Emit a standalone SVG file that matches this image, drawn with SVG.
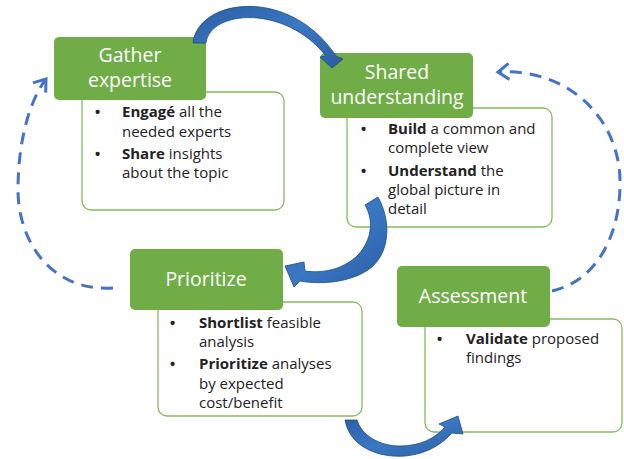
<svg xmlns="http://www.w3.org/2000/svg" width="624" height="459" viewBox="0 0 624 459">
<defs>
<style>
.title{fill:#70AD47;}
.ttl{font-family:"Open Sans","Liberation Sans",sans-serif;font-size:19.5px;fill:#ffffff;text-anchor:middle;}
.det{fill:#ffffff;stroke:#82BD5E;stroke-width:1.3;}
.txt{font-family:"Open Sans","Liberation Sans",sans-serif;font-size:15px;fill:#222222;}
.bul{font-family:"Open Sans","Liberation Sans",sans-serif;font-size:19px;fill:#222222;}
.b{font-weight:bold;}
.curved{fill:url(#blueGrad);stroke:#1F4E79;stroke-width:0.8;stroke-linejoin:round;}
.dashed{fill:none;stroke:#4472C4;stroke-width:3;stroke-dasharray:12 8;}
</style>
<linearGradient id="blueGrad" x1="0" y1="0" x2="1" y2="1">
<stop offset="0" stop-color="#2A5DA3"/>
<stop offset="0.5" stop-color="#3A78C4"/>
<stop offset="1" stop-color="#2A5DA3"/>
</linearGradient>
<marker id="chev" markerUnits="userSpaceOnUse" markerWidth="24" markerHeight="24" refX="0" refY="0" viewBox="-14 -12 18 24" orient="auto">
<path d="M-11,-8 L0,0 L-11,8" fill="none" stroke="#4472C4" stroke-width="3" stroke-dasharray="none"/>
</marker>
</defs>

<g id="gather">
<rect class="det" x="82" y="92" width="202" height="118" rx="9"/>
<rect class="title" x="54" y="37" width="152" height="63" rx="5"/>
<text class="ttl" x="130" y="62">Gather</text>
<text class="ttl" x="130" y="87">expertise</text>
<text class="bul" x="94" y="119">•</text>
<text class="txt" x="122" y="117"><tspan class="b">Engagé</tspan> all the</text>
<text class="txt" x="122" y="137">needed experts</text>
<text class="bul" x="94" y="161">•</text>
<text class="txt" x="122" y="159"><tspan class="b">Share</tspan> insights</text>
<text class="txt" x="122" y="178">about the topic</text>
</g>

<g id="shared">
<rect class="det" x="347" y="108" width="205" height="119" rx="9"/>
<rect class="title" x="320" y="53" width="153" height="65" rx="5"/>
<text class="ttl" x="397" y="79">Shared</text>
<text class="ttl" x="397" y="104">understanding</text>
<text class="bul" x="360" y="136">•</text>
<text class="txt" x="388" y="134"><tspan class="b">Build</tspan> a common and</text>
<text class="txt" x="388" y="153">complete view</text>
<text class="bul" x="360" y="178">•</text>
<text class="txt" x="388" y="176"><tspan class="b">Understand</tspan> the</text>
<text class="txt" x="388" y="195">global picture in</text>
<text class="txt" x="388" y="214">detail</text>
</g>

<g id="prioritize">
<rect class="det" x="158" y="302" width="204" height="114" rx="9"/>
<rect class="title" x="130" y="249" width="153" height="61" rx="5"/>
<text class="ttl" x="206" y="286">Prioritize</text>
<text class="bul" x="169" y="330">•</text>
<text class="txt" x="199" y="328"><tspan class="b">Shortlist</tspan> feasible</text>
<text class="txt" x="199" y="347">analysis</text>
<text class="bul" x="169" y="371">•</text>
<text class="txt" x="199" y="369"><tspan class="b">Prioritize</tspan> analyses</text>
<text class="txt" x="199" y="389">by expected</text>
<text class="txt" x="199" y="408">cost/benefit</text>
</g>

<g id="assessment">
<rect class="det" x="425" y="319" width="197" height="113" rx="9"/>
<rect class="title" x="397" y="266" width="153" height="61" rx="5"/>
<text class="ttl" x="473" y="303">Assessment</text>
<text class="bul" x="436" y="346">•</text>
<text class="txt" x="466" y="344"><tspan class="b">Validate</tspan> proposed</text>
<text class="txt" x="466" y="363">findings</text>
</g>

<g id="connectors">
<path class="curved" d="M193,43 C198,-2 290,-14 336,56 L343,59 L332,68 L320,57 L326,56 C285,4 210,10 206,43 Z"/>
<path class="curved" d="M378,197 C392,222 390,255 368,270 C350,282 322,285 300,281 L294,287 L285,266 L304,262 L305,271 C325,274 345,268 358,255 C372,240 374,220 365,205 Z"/>
<path class="curved" d="M345,420 C350,448 380,458 405,456 C428,454 443,443 452,433 L463,434 L458,416 L439,424 L445,427 C436,438 420,446 400,446 C380,446 362,436 357,420 Z"/>
<path class="dashed" d="M113,288 C50,292 18,240 18,190 C18,140 30,100 46,79" marker-end="url(#chev)"/>
<path class="dashed" d="M552,291 C600,280 621,230 620,180 C619,120 570,68 498,72" marker-end="url(#chev)"/>
</g>
</svg>
